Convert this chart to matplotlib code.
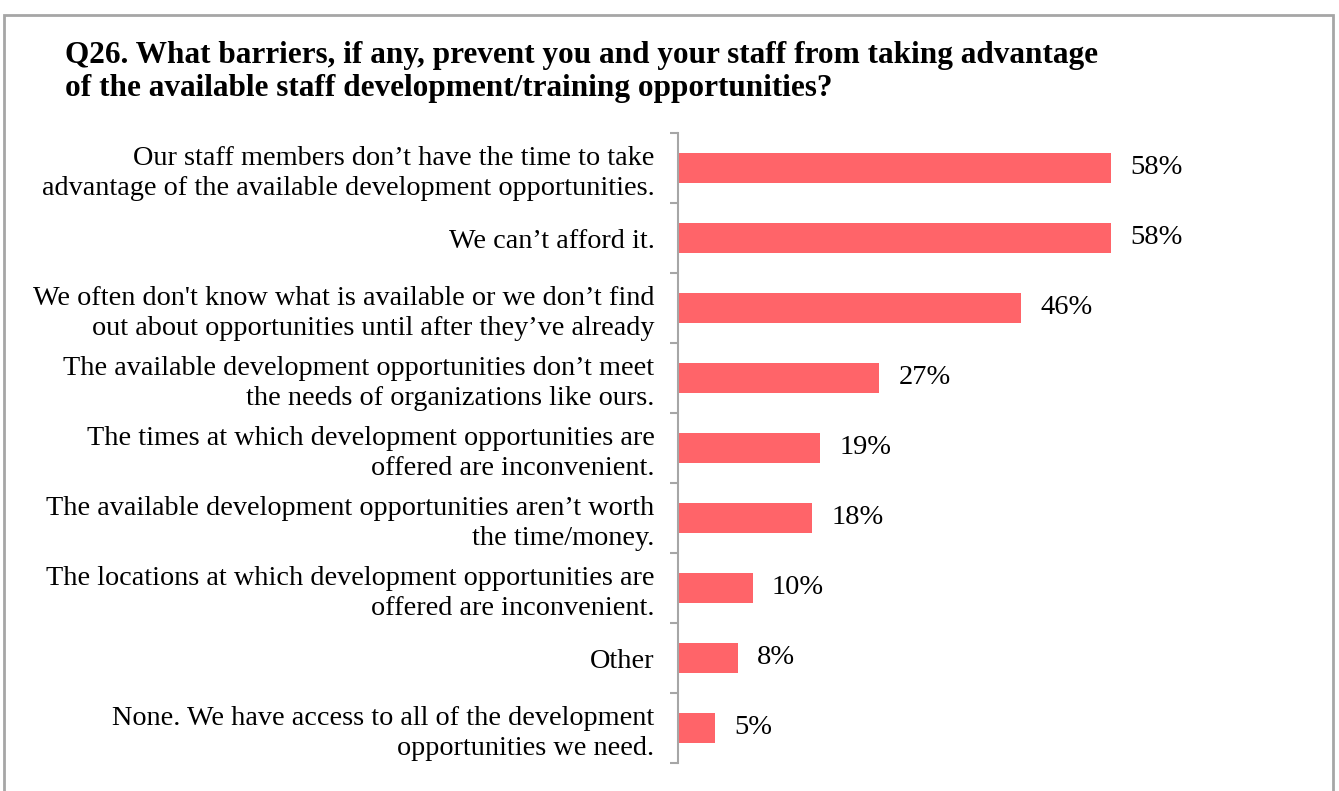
import matplotlib
matplotlib.use("Agg")
import matplotlib.pyplot as plt
from matplotlib.patches import Rectangle

# Survey question and answer data
title = ("Q26. What barriers, if any, prevent you and your staff from taking advantage\n"
         "of the available staff development/training opportunities?")
categories = [
    "Our staff members don\u2019t have the time to take\nadvantage of the available development opportunities.",
    "We can\u2019t afford it.",
    "We often don't know what is available or we don\u2019t find\nout about opportunities until after they\u2019ve already",
    "The available development opportunities don\u2019t meet\nthe needs of organizations like ours.",
    "The times at which development opportunities are\noffered are inconvenient.",
    "The available development opportunities aren\u2019t worth\nthe time/money.",
    "The locations at which development opportunities are\noffered are inconvenient.",
    "Other",
    "None. We have access to all of the development\nopportunities we need.",
]
values = [58, 58, 46, 27, 19, 18, 10, 8, 5]
value_labels = ["58%", "58%", "46%", "27%", "19%", "18%", "10%", "8%", "5%"]

W, H = 1339, 791
BAR_COLOR = "#FF6469"
AXIS_COLOR = "#A6A6A6"
FONT = "Liberation Serif"

fig = plt.figure(figsize=(W / 100, H / 100), dpi=100)
fig.patch.set_facecolor("white")


def px_rect(x0, y0, x1, y1):
    return [x0 / W, 1 - y1 / H, (x1 - x0) / W, (y1 - y0) / H]


# outer frame around the chart
fig.add_artist(Rectangle((4 / W, -0.05), (1333 - 4) / W, 1 - 15 / H + 0.05,
                         transform=fig.transFigure, fill=False,
                         edgecolor=AXIS_COLOR, linewidth=2))

fig.text(65 / W, 1 - 41 / H, title, fontsize=22.5, fontweight="bold",
         family=FONT, va="top", ha="left", linespacing=1.2, color="black")

ax = fig.add_axes(px_rect(678, 133, 1200, 763))
n = len(categories)
pos = list(range(n))
ax.barh(pos, values, height=0.43, color=BAR_COLOR, edgecolor="none")
ax.set_xlim(0, 70)
ax.set_ylim(n - 0.5, -0.5)

for i, (v, lab) in enumerate(zip(values, value_labels)):
    ax.annotate(lab, xy=(v, i), xytext=(14, 0), textcoords="offset points",
                va="center", ha="left", fontsize=20.5, family=FONT, color="black")

# category boundaries carry the tick marks, centres carry the labels
ax.set_yticks([i - 0.5 for i in range(n + 1)])
ax.set_yticklabels([])
ax.set_yticks(pos, minor=True)
ax.set_yticklabels(categories, minor=True, fontsize=20.3, family=FONT,
                   ha="right", linespacing=1.25)
ax.tick_params(axis="y", which="major", length=6, width=1.5, color=AXIS_COLOR,
               direction="out")
ax.tick_params(axis="y", which="minor", length=0, pad=17)
ax.set_xticks([])
for side in ["top", "right", "bottom"]:
    ax.spines[side].set_visible(False)
ax.spines["left"].set_color(AXIS_COLOR)
ax.spines["left"].set_linewidth(1.5)

fig.savefig("out.png", dpi=100, facecolor="white")
